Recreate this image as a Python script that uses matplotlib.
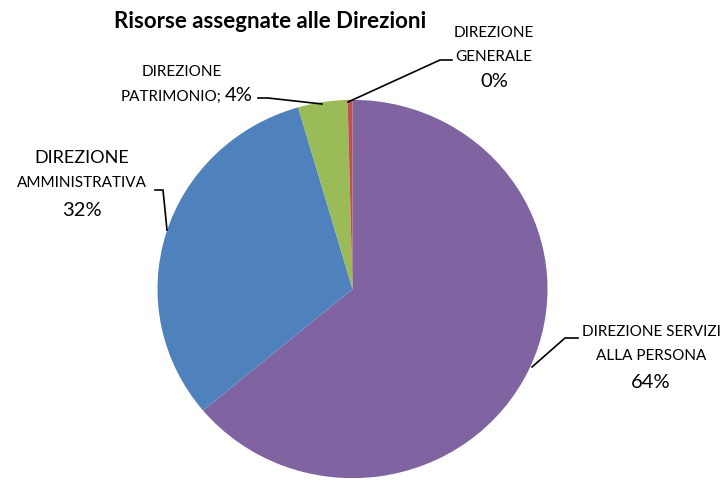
import matplotlib.pyplot as plt
from matplotlib.transforms import Affine2D

plt.rcParams['font.family'] = ['Lato', 'DejaVu Sans']

# dati
direzioni = ['DIREZIONE SERVIZI\nALLA PERSONA', 'DIREZIONE\nAMMINISTRATIVA',
             'DIREZIONE\nPATRIMONIO', 'DIREZIONE\nGENERALE']
quote = [63.9, 31.6, 4.1, 0.4]
etichette_pct = ['64%', '32%', '4%', '0%']
colori = ['#8064A2', '#4F81BD', '#9BBB59', '#C0504D']

W, H = 727, 486
fig = plt.figure(figsize=(W / 100, H / 100), dpi=100)
ax = fig.add_axes([0, 0, 1, 1])


def Y(y):
    # coordinate in pixel dall'alto
    return H - y


cx, cy, r = 352.5, 289, 195
wedges, _ = ax.pie(quote, colors=colori, startangle=90, counterclock=False,
                   center=(cx, Y(cy)), radius=r, frame=True,
                   wedgeprops={'linewidth': 0})
ax.set_xlim(0, W)
ax.set_ylim(0, H)
ax.set_aspect('equal')
ax.axis('off')

# leggero schiacciamento verticale come nell'originale
squash = Affine2D().translate(-cx, -Y(cy)).scale(1, 0.97).translate(cx, Y(cy))
for w in wedges:
    w.set_transform(squash + ax.transData)

ax.text(270, Y(22), 'Risorse assegnate alle Direzioni', fontsize=16,
        fontweight='bold', ha='center', va='center')

small = 11
big = 14.5

# DIREZIONE GENERALE
ax.text(494, Y(33), 'DIREZIONE', fontsize=small, ha='center', va='center')
ax.text(494, Y(57), 'GENERALE', fontsize=small, ha='center', va='center')
ax.text(494, Y(82), etichette_pct[3], fontsize=big, ha='center', va='center')
ax.plot([452, 440, 348], [Y(60), Y(60), Y(102)], color='black', lw=1.2)

# DIREZIONE PATRIMONIO
ax.text(182, Y(72), 'DIREZIONE', fontsize=small, ha='center', va='center')
ax.text(222, Y(97), 'PATRIMONIO;', fontsize=small, ha='right', va='center')
ax.text(225, Y(96), etichette_pct[2], fontsize=big, ha='left', va='center')
ax.plot([258, 268, 322], [Y(98), Y(98), Y(104)], color='black', lw=1.2)

# DIREZIONE AMMINISTRATIVA
ax.text(82, Y(158), 'DIREZIONE', fontsize=13, ha='center', va='center')
ax.text(82, Y(183), 'AMMINISTRATIVA', fontsize=small, ha='center', va='center')
ax.text(82, Y(210), etichette_pct[1], fontsize=big, ha='center', va='center')
ax.plot([155, 163, 167], [Y(190), Y(190), Y(230)], color='black', lw=1.2)

# DIREZIONE SERVIZI ALLA PERSONA
ax.text(651, Y(332), 'DIREZIONE SERVIZI', fontsize=small, ha='center', va='center')
ax.text(651, Y(356), 'ALLA PERSONA', fontsize=small, ha='center', va='center')
ax.text(651, Y(383), etichette_pct[0], fontsize=big, ha='center', va='center')
ax.plot([578, 565, 532], [Y(338), Y(338), Y(367)], color='black', lw=1.2)

fig.savefig('out.png', dpi=100)
